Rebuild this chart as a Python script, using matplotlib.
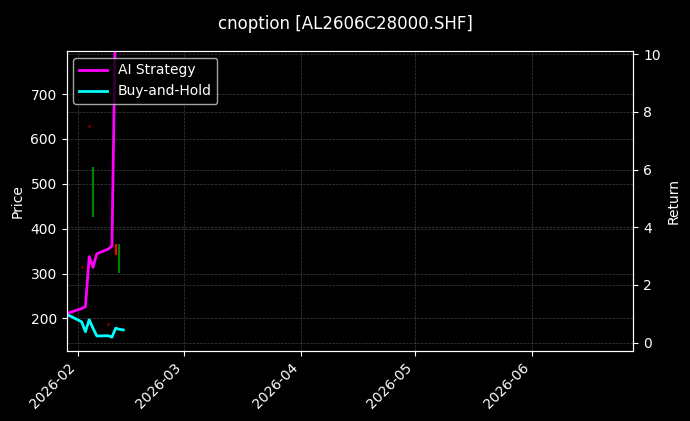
import pandas as pd
import matplotlib
matplotlib.use("Agg")
import matplotlib.pyplot as plt
import matplotlib.dates as mdates

plt.style.use("dark_background")

# trading days shown in the chart
dates = pd.to_datetime([
    "2026-01-29", "2026-01-30", "2026-02-02", "2026-02-03", "2026-02-04",
    "2026-02-05", "2026-02-06", "2026-02-09", "2026-02-10", "2026-02-11",
    "2026-02-12", "2026-02-13",
])

# cumulative return curves (right axis)
ai_strategy = [1.0, 1.05, 1.18, 1.25, 2.98, 2.61, 3.08, 3.24, 3.35, 11.8]
buy_and_hold = [0.97, 0.92, 0.72, 0.38, 0.79, 0.5, 0.23, 0.24, 0.19, 0.5, 0.46, 0.44]

# candles that are visible (left axis)
candle_dates = pd.to_datetime(["2026-02-05", "2026-02-11", "2026-02-12"])
candle_open = [426, 365, 302]
candle_close = [538, 341, 365]

# tiny doji marks
doji_dates = pd.to_datetime(["2026-02-02", "2026-02-04", "2026-02-09"])
doji_price = [315, 628, 187]

fig = plt.figure(figsize=(6.9, 4.21), dpi=100)
ax1 = fig.add_axes([0.0964, 0.167, 0.8217, 0.712])
ax2 = ax1.twinx()

colors = ["green" if c >= o else "red" for o, c in zip(candle_open, candle_close)]
ax1.vlines(candle_dates, candle_open, candle_close, colors=colors, linewidth=1.6)
ax1.scatter(doji_dates, doji_price, s=1.5, color="#8b0000", alpha=0.7)

ax2.plot(dates[:len(ai_strategy)], ai_strategy, color="magenta", linewidth=2, label="AI Strategy")
ax2.plot(dates, buy_and_hold, color="cyan", linewidth=2, label="Buy-and-Hold")

ax1.set_xlim(pd.Timestamp("2026-01-29"), pd.Timestamp("2026-06-27 20:00"))
ax1.set_ylim(128, 796)
ax2.set_ylim(-0.28, 10.11)

ax1.xaxis.set_major_locator(mdates.MonthLocator())
ax1.xaxis.set_major_formatter(mdates.DateFormatter("%Y-%m"))
plt.setp(ax1.get_xticklabels(), rotation=45, ha="right")

ax1.set_ylabel("Price")
ax2.set_ylabel("Return")

ax1.grid(True, linestyle="--", linewidth=0.5, color="gray", alpha=0.5)
ax2.grid(True, linestyle="--", linewidth=0.5, color="gray", alpha=0.5)

ax2.legend(loc="upper left", framealpha=0.8)
fig.suptitle("cnoption [AL2606C28000.SHF]", fontsize=12, y=0.965)

fig.savefig("out.png", dpi=100)
